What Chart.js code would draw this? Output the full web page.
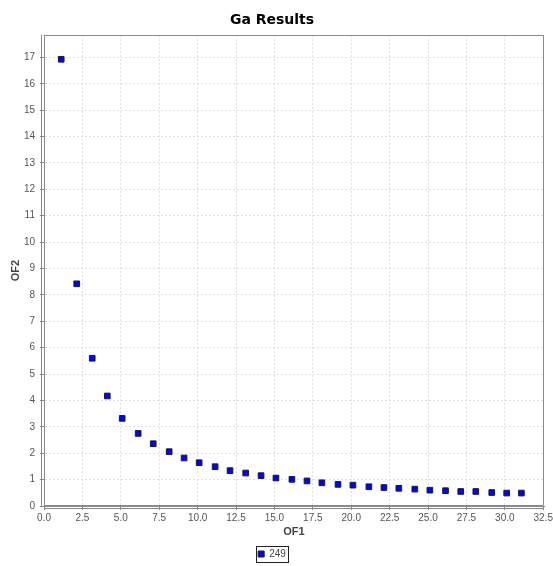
<!DOCTYPE html>
<html><head><meta charset="utf-8">
<script src="https://cdn.jsdelivr.net/npm/chart.js@4/dist/chart.umd.min.js"></script>
<style>html,body{margin:0;padding:0;background:#fff;overflow:hidden}</style>
</head><body>
<canvas id="c" width="553" height="566"></canvas>
<script>
const chartTitle = 'Ga Results';
const seriesName = '249';
const xAxisTitle = 'OF1';
const yAxisTitle = 'OF2';

const of1Values = [1.12, 2.13, 3.14, 4.12, 5.09, 6.13, 7.11, 8.15, 9.12, 10.10,
                   11.14, 12.11, 13.13, 14.13, 15.10, 16.14, 17.12, 18.09, 19.14, 20.11,
                   21.15, 22.13, 23.10, 24.14, 25.12, 26.14, 27.13, 28.11, 29.15, 30.12, 31.08];
const of2Values = [16.93, 8.42, 5.60, 4.17, 3.32, 2.75, 2.36, 2.06, 1.82, 1.64,
                   1.49, 1.34, 1.25, 1.15, 1.06, 1.01, 0.95, 0.88, 0.82, 0.79,
                   0.73, 0.70, 0.67, 0.64, 0.60, 0.58, 0.55, 0.55, 0.51, 0.49, 0.49];

const xMin = 0, xMax = 32.55, xStep = 2.5;
const yMin = 0, yMax = 17.85, yStep = 1;

Chart.defaults.font.family = "'Liberation Sans', Arial, sans-serif";

const points = of1Values.map((x, i) => ({x: x, y: of2Values[i]}));

const framePlugin = {
  id: 'frame',
  afterDraw(chart) {
    const ctx = chart.ctx;
    const a = chart.chartArea;
    ctx.save();
    ctx.strokeStyle = '#8a8a8a';
    ctx.lineWidth = 1;
    ctx.beginPath();
    ctx.rect(Math.round(a.left) + 0.5, Math.round(a.top) + 0.5,
             Math.round(a.right - a.left) - 1, Math.round(a.bottom - a.top) - 1);
    ctx.stroke();
    // offset axis lines
    ctx.beginPath();
    ctx.moveTo(Math.round(a.left) - 2.5, Math.round(a.top));
    ctx.lineTo(Math.round(a.left) - 2.5, Math.round(a.bottom));
    ctx.moveTo(Math.round(a.left), Math.round(a.bottom) + 2.5);
    ctx.lineTo(Math.round(a.right), Math.round(a.bottom) + 2.5);
    ctx.stroke();
    // legend border
    const lg = chart.legend;
    if (lg && lg.legendHitBoxes && lg.legendHitBoxes.length) {
      const hb = lg.legendHitBoxes[0];
      ctx.strokeStyle = '#222';
      ctx.strokeRect(Math.round(hb.left - 2) + 0.5, Math.round(hb.top - 3) + 0.5,
                     Math.round(hb.width + 4), Math.round(hb.height + 6));
    }
    ctx.restore();
  }
};

new Chart(document.getElementById('c'), {
  type: 'scatter',
  data: {
    datasets: [{
      label: seriesName,
      data: points,
      pointStyle: 'rect',
      pointRadius: 4,
      pointHoverRadius: 4,
      backgroundColor: '#0000ff',
      borderColor: '#1a1a40',
      borderWidth: 1
    }]
  },
  options: {
    responsive: false,
    animation: false,
    devicePixelRatio: 1,
    layout: { padding: { left: 0, right: 9, top: 0, bottom: -3 } },
    plugins: {
      title: {
        display: true,
        text: chartTitle,
        color: '#000',
        font: { family: "'DejaVu Sans', sans-serif", size: 14, weight: 'bold' },
        padding: { top: 12, bottom: 6.2 }
      },
      legend: {
        display: true,
        position: 'bottom',
        labels: {
          boxWidth: 6,
          boxHeight: 6,
          padding: 4,
          color: '#444',
          font: { size: 10 }
        }
      },
      tooltip: { enabled: false }
    },
    scales: {
      x: {
        type: 'linear',
        min: xMin, max: xMax,
        afterFit(s) { s.height = 39; s.paddingLeft = 0; s.paddingRight = 0; },
        ticks: {
          stepSize: xStep,
          includeBounds: false,
          color: '#555',
          font: { size: 10 },
          padding: 2,
          maxRotation: 0,
          autoSkip: false,
          callback: v => Number(v).toFixed(1)
        },
        grid: { color: '#e0e0e0', tickColor: '#888', tickLength: 4, tickBorderDash: [] },
        border: { display: true, color: '#8a8a8a', dash: [2, 2] },
        title: {
          display: true, text: xAxisTitle, color: '#444',
          font: { size: 11, weight: 'bold' },
          padding: { top: 0, bottom: 6.4 }
        }
      },
      y: {
        type: 'linear',
        min: yMin, max: yMax,
        afterFit(s) { s.width = 44; s.paddingTop = 0; s.paddingBottom = 0; },
        ticks: {
          stepSize: yStep,
          includeBounds: false,
          color: '#555',
          font: { size: 10 },
          padding: 5,
          autoSkip: false
        },
        grid: { color: '#e0e0e0', tickColor: '#888', tickLength: 4, tickBorderDash: [] },
        border: { display: true, color: '#8a8a8a', dash: [2, 2] },
        title: {
          display: true, text: yAxisTitle, color: '#444',
          font: { size: 11, weight: 'bold' },
          padding: { top: 9, bottom: 0 }
        }
      }
    }
  },
  plugins: [framePlugin]
});
</script>
</body></html>
